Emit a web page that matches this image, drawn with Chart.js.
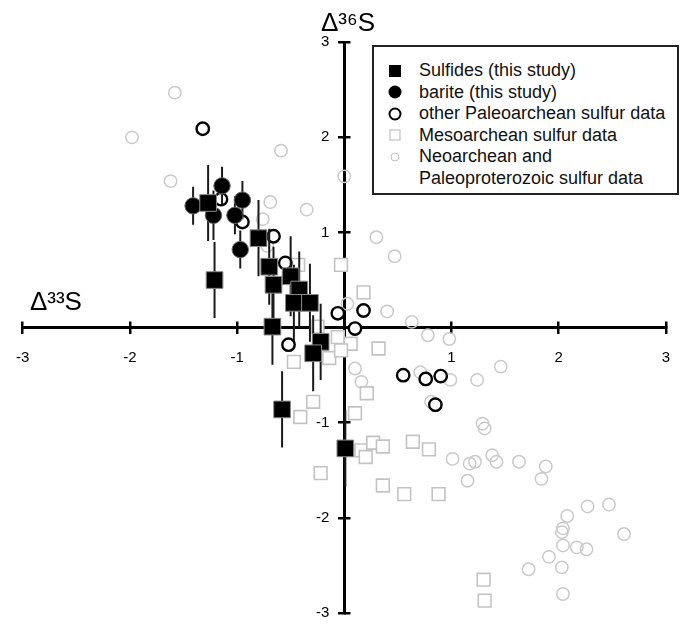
<!DOCTYPE html>
<html>
<head>
<meta charset="utf-8">
<script src="https://cdn.jsdelivr.net/npm/chart.js@4.4.0/dist/chart.umd.min.js"></script>
<style>
  body { margin: 0; background: #fff; }
  #wrap { position: relative; width: 686px; height: 626px; }
  #legenda {
    position: absolute; left: 372px; top: 45px; width: 307px; height: 150px;
    box-sizing: border-box; border: 2px solid #222; background: #fff;
    padding-top: 13px; color: #111; line-height: 21.5px;
    font: 18px/21.5px "Liberation Sans", Arial, sans-serif;
  }
  .item { display: flex; align-items: flex-start; }
  .mk { flex: none; width: 45px; height: 21.5px; position: relative; }
  .mk span { position: absolute; left: 21px; top: 10.75px; transform: translate(-50%, -50%); box-sizing: border-box; }
  .txt { white-space: pre-line; }
  .m-sulf { width: 12px; height: 12px; background: #000; }
  .m-bar { width: 13px; height: 13px; background: #000; border-radius: 50%; }
  .m-paleo { width: 13px; height: 13px; border: 2px solid #000; border-radius: 50%; }
  .m-meso { width: 11px; height: 11px; border: 1.5px solid #b5b5b5; }
  .m-neo { width: 9px; height: 9px; border: 1.3px solid #c0c0c0; border-radius: 50%; }
</style>
</head>
<body>
<div id="wrap">
  <canvas id="grafico" width="686" height="626"></canvas>
  <div id="legenda"></div>
</div>
<script>
// Rótulos das séries (legenda)
const rotulos = [
  'Sulfides (this study)',
  'barite (this study)',
  'other Paleoarchean sulfur data',
  'Mesoarchean sulfur data',
  'Neoarchean and\nPaleoproterozoic sulfur data'
];

// Eixos: Δ33S (x) e Δ36S (y)
const tituloX = 'Δ³³S';
const tituloY = 'Δ³⁶S';
const ticksEixo = [-3, -2, -1, 0, 1, 2, 3];

// Sulfetos (este estudo) + barras de erro
const sulfetosX = [-1.27, -1.21, -0.80, -0.70, -0.66, -0.50, -0.42, -0.47, -0.32, -0.67, -0.22, -0.29, -0.58, 0.01];
const sulfetosY = [1.31, 0.50, 0.94, 0.64, 0.45, 0.54, 0.40, 0.26, 0.26, 0.01, -0.15, -0.27, -0.86, -1.27];
const sulfetosErro = [0.4, 0.4, 0.4, 0.4, 0.4, 0.42, 0.4, 0.4, 0.41, 0.4, 0.4, 0.4, 0.4, 0.4];

// Barita (este estudo) + barras de erro
const baritaX = [-1.41, -1.14, -1.22, -0.95, -1.02, -0.97];
const baritaY = [1.28, 1.49, 1.18, 1.34, 1.18, 0.82];
const baritaErro = [0.2, 0.2, 0.26, 0.2, 0.2, 0.2];

// Outros dados paleoarqueanos
const paleoX = [-1.32, -1.15, -0.95, -0.66, -0.55, -0.52, -0.06, 0.10, 0.18, 0.55, 0.76, 0.90, 0.85];
const paleoY = [2.09, 1.35, 1.11, 0.96, 0.68, -0.18, 0.15, -0.01, 0.18, -0.50, -0.54, -0.51, -0.81];

// Dados mesoarqueanos
const mesoX = [-0.03, 0.18, -0.43, -0.25, -0.06, 0.06, 0.32, -0.47, -0.14, -0.03, 0.21, -0.29, 0.10, -0.41, -0.22, 0.16, 0.20, 0.27, 0.36, 0.64, 0.79, 0.36, 0.56, 0.88, 1.30, 1.31];
const mesoY = [0.66, 0.37, 0.66, 0.01, -0.10, -0.17, -0.22, -0.36, -0.32, -0.24, -0.69, -0.78, -0.90, -0.94, -1.53, -1.29, -1.36, -1.21, -1.25, -1.20, -1.28, -1.66, -1.75, -1.75, -2.65, -2.87];

// Dados neoarqueanos e paleoproterozoicos
const neoX = [-1.58, -1.98, -1.62, -0.59, -0.69, -0.35, -0.76, -0.72, 0.00, 0.30, 0.47, 0.03, 0.40, 0.63, 0.78, 0.98, 0.10, 0.16, 1.46, 1.24, 0.99, 0.71, 0.81, 1.29, 1.31, 1.01, 1.17, 1.22, 1.38, 1.42, 1.15, 1.63, 1.88, 1.84, 2.27, 2.47, 2.08, 2.04, 2.03, 2.61, 2.04, 2.17, 2.26, 1.91, 2.03, 1.72, 2.04];
const neoY = [2.47, 2.00, 1.54, 1.86, 1.32, 1.24, 1.14, 0.86, 1.59, 0.95, 0.75, 0.25, 0.17, 0.06, -0.08, -0.12, -0.43, -0.57, -0.41, -0.55, -0.55, -0.47, -0.78, -1.01, -1.06, -1.38, -1.43, -1.41, -1.34, -1.41, -1.61, -1.41, -1.46, -1.59, -1.88, -1.86, -1.98, -2.11, -2.15, -2.17, -2.29, -2.31, -2.33, -2.41, -2.52, -2.54, -2.80];

const fonte = '"Liberation Sans", Arial, Helvetica, sans-serif';

function pontos(xs, ys) {
  return xs.map((x, i) => ({ x: x, y: ys[i] }));
}

// barras verticais: (x, y-e) -> (x, y+e), separadas por null
function barras(xs, ys, erros) {
  const pts = [];
  xs.forEach((x, i) => {
    pts.push({ x: x, y: ys[i] - erros[i] }, { x: x, y: ys[i] + erros[i] }, { x: x, y: null });
  });
  return pts;
}

function rotuloTick(v) {
  return v === 0 ? '' : String(v);
}

// escala base: eixos cruzando na origem, sem ocupar espaço no layout
function eixo(posicao, comprimento, extras) {
  const horizontal = 'y' in posicao;
  return Object.assign({
    type: 'linear',
    position: posicao,
    min: ticksEixo[0],
    max: ticksEixo[ticksEixo.length - 1],
    afterFit: s => { if (horizontal) s.height = 0; else s.width = 0; },
    afterBuildTicks: s => { s.ticks = ticksEixo.map(v => ({ value: v })); },
    border: { display: false },
    grid: { drawOnChartArea: false, color: '#000', lineWidth: 2.5, tickLength: comprimento },
    ticks: { display: false }
  }, extras);
}

const ctx = document.getElementById('grafico').getContext('2d');
const grafico = new Chart(ctx, {
  type: 'scatter',
  data: {
    datasets: [
      {
        label: rotulos[0],
        data: pontos(sulfetosX, sulfetosY),
        pointStyle: 'rect',
        pointRadius: 11.8,
        pointBackgroundColor: '#000',
        pointBorderColor: '#8a8a8a',
        pointBorderWidth: 1
      },
      {
        label: rotulos[1],
        data: pontos(baritaX, baritaY),
        pointStyle: 'circle',
        pointRadius: 8.2,
        pointBackgroundColor: '#000',
        pointBorderColor: '#666',
        pointBorderWidth: 1
      },
      {
        label: 'erro',
        data: barras(sulfetosX, sulfetosY, sulfetosErro).concat(barras(baritaX, baritaY, baritaErro)),
        showLine: true,
        spanGaps: false,
        pointRadius: 0,
        borderColor: '#1a1a1a',
        borderWidth: 2
      },
      {
        label: rotulos[2],
        data: pontos(paleoX, paleoY),
        pointStyle: 'circle',
        pointRadius: 6.2,
        pointBackgroundColor: '#fff',
        pointBorderColor: '#000',
        pointBorderWidth: 2.4
      },
      {
        label: rotulos[3],
        data: pontos(mesoX, mesoY),
        pointStyle: 'rect',
        pointRadius: 9,
        pointBackgroundColor: '#fff',
        pointBorderColor: '#c3c3c3',
        pointBorderWidth: 1.6
      },
      {
        label: rotulos[4],
        data: pontos(neoX, neoY),
        pointStyle: 'circle',
        pointRadius: 6.2,
        pointBackgroundColor: 'rgba(255,255,255,0)',
        pointBorderColor: '#cacaca',
        pointBorderWidth: 1.5
      }
    ]
  },
  options: {
    responsive: false,
    animation: false,
    events: [],
    layout: { padding: { left: 21, right: 11, top: 0, bottom: 13 } },
    plugins: {
      legend: { display: false },
      tooltip: { enabled: false },
      title: {
        display: true,
        text: tituloY,
        color: '#000',
        font: { family: fonte, size: 26, weight: 'normal' },
        padding: { top: 8, bottom: 3 }
      }
    },
    scales: {
      x: eixo({ y: 0 }, 5, {
        border: { display: true, color: '#000', width: 3 },
        ticks: { display: true, padding: 16, color: '#000', font: { family: fonte, size: 15 }, callback: rotuloTick },
        title: {
          display: true,
          text: ' ' + tituloX,
          align: 'start',
          color: '#000',
          font: { family: fonte, size: 26, weight: 'normal' },
          padding: { top: 0, bottom: 9 }
        }
      }),
      x2: eixo({ y: 0 }, -6.5),
      y: eixo({ x: 0 }, 5, {
        border: { display: true, color: '#000', width: 3 },
        ticks: { display: true, color: '#000', font: { family: fonte, size: 15 }, callback: v => v === 0 ? '' : v + '\u2003' }
      }),
      y2: eixo({ x: 0 }, -6.5)
    }
  }
});

// legenda em HTML (caixa com borda e rótulo em duas linhas)
const classes = ['m-sulf', 'm-bar', 'm-paleo', 'm-meso', 'm-neo'];
document.getElementById('legenda').innerHTML = rotulos.map((r, i) => `
  <div class="item">
    <div class="mk"><span class="${classes[i]}"></span></div>
    <div class="txt">${r}</div>
  </div>`).join('');
</script>
</body>
</html>
